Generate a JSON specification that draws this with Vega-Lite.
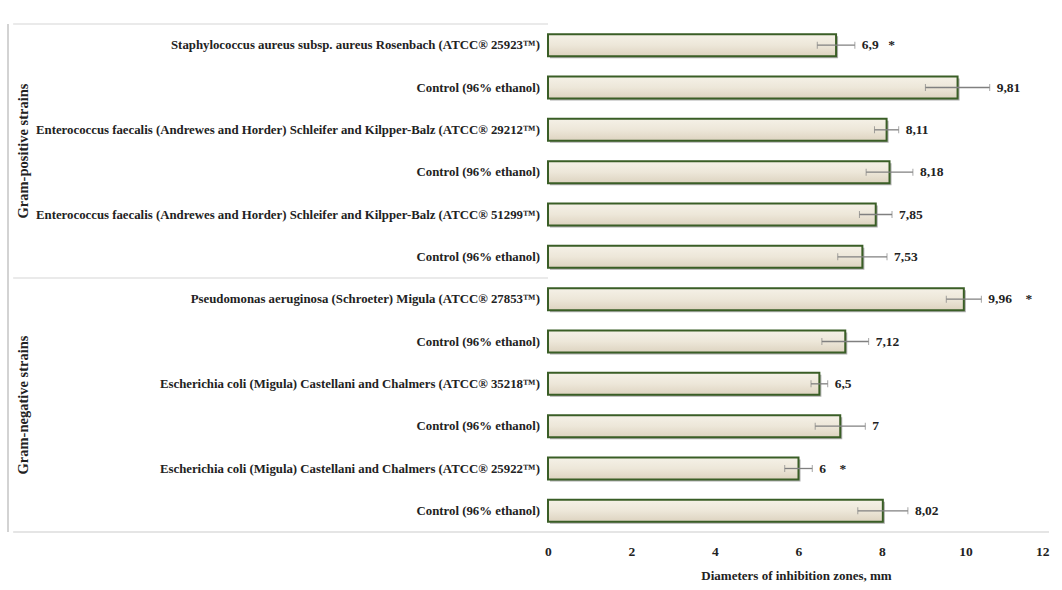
{
  "$schema": "https://vega.github.io/schema/vega-lite/v6.json",
  "width": 1041,
  "height": 508,
  "autosize": {"type": "none"},
  "padding": {"left": 8, "top": 24, "right": 13, "bottom": 58},
  "background": "white",
  "config": {"view": {"stroke": null}, "font": "Liberation Serif"},
  "data": {
    "values": [
      {"row": 1, "group": "Gram-positive strains", "strain": "Staphylococcus aureus subsp. aureus Rosenbach (ATCC® 25923™)", "value": 6.9, "lo": 6.45, "hi": 7.35, "label": "6,9\u2002\u2009*"},
      {"row": 2, "group": "Gram-positive strains", "strain": "Control (96% ethanol)", "value": 9.81, "lo": 9.04, "hi": 10.58, "label": "9,81"},
      {"row": 3, "group": "Gram-positive strains", "strain": "Enterococcus faecalis (Andrewes and Horder) Schleifer and Kilpper-Balz (ATCC® 29212™)", "value": 8.11, "lo": 7.82, "hi": 8.4, "label": "8,11"},
      {"row": 4, "group": "Gram-positive strains", "strain": "Control (96% ethanol)", "value": 8.18, "lo": 7.62, "hi": 8.74, "label": "8,18"},
      {"row": 5, "group": "Gram-positive strains", "strain": "Enterococcus faecalis (Andrewes and Horder) Schleifer and Kilpper-Balz (ATCC® 51299™)", "value": 7.85, "lo": 7.46, "hi": 8.24, "label": "7,85"},
      {"row": 6, "group": "Gram-positive strains", "strain": "Control (96% ethanol)", "value": 7.53, "lo": 6.94, "hi": 8.12, "label": "7,53"},
      {"row": 7, "group": "Gram-negative strains", "strain": "Pseudomonas aeruginosa (Schroeter) Migula (ATCC® 27853™)", "value": 9.96, "lo": 9.54, "hi": 10.38, "label": "9,96\u2002\u2002*"},
      {"row": 8, "group": "Gram-negative strains", "strain": "Control (96% ethanol)", "value": 7.12, "lo": 6.56, "hi": 7.68, "label": "7,12"},
      {"row": 9, "group": "Gram-negative strains", "strain": "Escherichia coli (Migula) Castellani and Chalmers (ATCC® 35218™)", "value": 6.5, "lo": 6.3, "hi": 6.7, "label": "6,5"},
      {"row": 10, "group": "Gram-negative strains", "strain": "Control (96% ethanol)", "value": 7.0, "lo": 6.4, "hi": 7.6, "label": "7"},
      {"row": 11, "group": "Gram-negative strains", "strain": "Escherichia coli (Migula) Castellani and Chalmers (ATCC® 25922™)", "value": 6.0, "lo": 5.67, "hi": 6.33, "label": "6\u2002\u2002*"},
      {"row": 12, "group": "Gram-negative strains", "strain": "Control (96% ethanol)", "value": 8.02, "lo": 7.42, "hi": 8.62, "label": "8,02"}
    ]
  },
  "layer": [
    {
      "transform": [{"filter": "datum.row == 1 || datum.row == 7"}],
      "mark": {"type": "rule", "color": "#e3e3e3", "strokeWidth": 1.5},
      "encoding": {
        "y": {"field": "row", "type": "ordinal", "axis": null, "sort": "ascending", "bandPosition": 0,
              "scale": {"type": "band", "paddingInner": 0, "paddingOuter": 0}},
        "x": {"datum": -12.81, "type": "quantitative"},
        "x2": {"datum": 0}
      }
    },
    {
      "transform": [{"filter": "datum.row == 12"}],
      "mark": {"type": "rule", "color": "#dcdcdc", "strokeWidth": 1.5},
      "encoding": {
        "y": {"field": "row", "type": "ordinal", "axis": null, "sort": "ascending", "bandPosition": 1},
        "x": {"datum": -12.81, "type": "quantitative"},
        "x2": {"datum": 12}
      }
    },
    {
      "transform": [{"filter": "datum.row == 1"}],
      "mark": {"type": "rule", "color": "#c4c4c4", "strokeWidth": 1.5},
      "encoding": {
        "x": {"datum": -12.934, "type": "quantitative"}
      }
    },
    {
      "mark": {"type": "bar", "height": {"band": 0.52}, "color": "#7a7a7a", "opacity": 0.6, "xOffset": 2, "yOffset": 2},
      "encoding": {
        "y": {"field": "row", "type": "ordinal", "axis": null, "sort": "ascending"},
        "x": {"field": "value", "type": "quantitative",
              "scale": {"domain": [-12.934, 12], "nice": false, "zero": false},
              "axis": {"values": [0, 2, 4, 6, 8, 10, 12], "title": "Diameters of inhibition zones, mm",
                       "domain": false, "ticks": false, "grid": false, "labelPadding": 12,
                       "labelFont": "Liberation Serif", "labelFontWeight": "bold", "labelFontSize": 13.5, "labelColor": "#222",
                       "titleFont": "Liberation Serif", "titleFontWeight": "bold", "titleFontSize": 13, "titleColor": "#222",
                       "titleX": 788, "titleY": 37, "titleBaseline": "top", "titleAlign": "center"}}
      }
    },
    {
      "mark": {"type": "bar", "height": {"band": 0.52}, "stroke": "#3a5e26", "strokeWidth": 2,
               "fill": {"gradient": "linear", "x1": 0, "y1": 0, "x2": 0, "y2": 1,
                        "stops": [{"offset": 0, "color": "#f5f1e7"}, {"offset": 0.5, "color": "#ede7d9"}, {"offset": 1, "color": "#ddd3c0"}]}},
      "encoding": {
        "y": {"field": "row", "type": "ordinal", "axis": null, "sort": "ascending"},
        "x": {"field": "value", "type": "quantitative", "title": "Diameters of inhibition zones, mm"}
      }
    },
    {
      "mark": {"type": "errorbar", "ticks": {"size": 7, "color": "#808080"}, "rule": {"color": "#808080", "strokeWidth": 1.3}},
      "encoding": {
        "y": {"field": "row", "type": "ordinal", "axis": null, "sort": "ascending"},
        "x": {"field": "lo", "type": "quantitative", "title": "Diameters of inhibition zones, mm"},
        "x2": {"field": "hi"}
      }
    },
    {
      "mark": {"type": "text", "align": "left", "baseline": "middle", "dx": 7, "font": "Liberation Serif", "fontWeight": "bold", "fontSize": 13.5, "color": "#222"},
      "encoding": {
        "y": {"field": "row", "type": "ordinal", "axis": null, "sort": "ascending"},
        "x": {"field": "hi", "type": "quantitative", "title": "Diameters of inhibition zones, mm"},
        "text": {"field": "label"}
      }
    },
    {
      "mark": {"type": "text", "align": "right", "baseline": "middle", "dx": -8, "font": "Liberation Serif", "fontWeight": "bold", "fontSize": 12.8, "color": "#222", "limit": 0},
      "encoding": {
        "y": {"field": "row", "type": "ordinal", "axis": null, "sort": "ascending"},
        "x": {"datum": 0, "type": "quantitative"},
        "text": {"field": "strain"}
      }
    },
    {
      "transform": [{"filter": "datum.row == 3 || datum.row == 9"}],
      "mark": {"type": "text", "align": "center", "baseline": "middle", "angle": 270, "font": "Liberation Serif", "fontWeight": "bold", "fontSize": 14.5, "color": "#222"},
      "encoding": {
        "y": {"field": "row", "type": "ordinal", "axis": null, "sort": "ascending", "bandPosition": 1},
        "x": {"datum": -12.55, "type": "quantitative"},
        "text": {"field": "group"}
      }
    }
  ]
}
